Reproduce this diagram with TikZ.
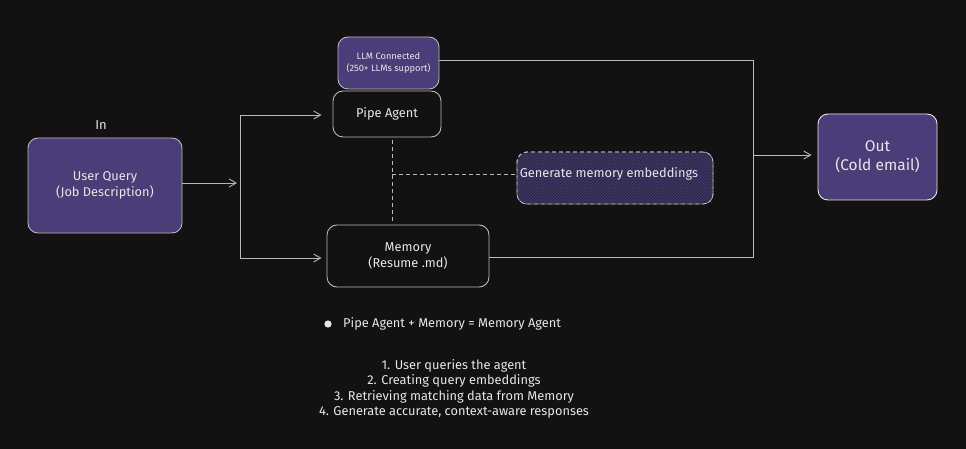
\documentclass[tikz,border=0pt]{standalone}
\usepackage{fontspec}
\setmainfont{Fira Sans}
\usetikzlibrary{arrows.meta,patterns}
\definecolor{bg}{HTML}{121212}
\definecolor{purp}{HTML}{4A3D78}
\definecolor{darkpurp}{HTML}{2B2648}
\definecolor{hatch}{HTML}{3F3A66}
\definecolor{ln}{HTML}{B8B8B8}
\definecolor{txt}{HTML}{E6E6E6}
\tikzset{
  box/.style={draw=ln, line width=0.9pt, rounded corners=10pt, text=txt, align=center, inner sep=0pt},
  pbox/.style={box, fill=purp},
  kbox/.style={box, fill=bg},
  conn/.style={draw=ln, line width=0.9pt},
  arr/.style={conn, -{Straight Barb[length=7pt,width=8pt]}},
  dconn/.style={draw=ln, line width=0.8pt, dash pattern=on 4pt off 3pt},
  lbl/.style={text=txt, inner sep=0pt},
  mainfs/.style={font=\fontsize{12.8}{15.5}\selectfont}
}
\begin{document}
\begin{tikzpicture}[x=1pt,y=-1pt]
\fill[bg] (0,0) rectangle (966,449);
\useasboundingbox (0,0) rectangle (966,449);

% nodes
\node[lbl, font=\fontsize{13}{15}\selectfont] (in) at (101,125) {In};
\node[pbox, minimum width=154pt, minimum height=95pt, mainfs] (uq) at (105,185.5) {User Query\\(Job Description)};
\node[pbox, minimum width=101pt, minimum height=52pt, font=\fontsize{9.3}{11.5}\selectfont] (llm) at (388.5,63) {LLM Connected\\(250+ LLMs support)};
\node[kbox, minimum width=108pt, minimum height=46pt, mainfs] (pipe) at (387,114) {Pipe Agent};
\node[box, dash pattern=on 4pt off 3pt, fill=darkpurp, minimum width=196pt, minimum height=52pt] (gen) at (615,178) {};
\fill[pattern=crosshatch, pattern color=hatch, rounded corners=10pt] (518,153) rectangle (712,203);
\draw[ln, line width=0.8pt, dash pattern=on 4pt off 3pt, rounded corners=10pt] (517,152) rectangle (713,204);
\node[lbl, mainfs] (gent) at (609,174) {Generate memory embeddings};
\node[kbox, minimum width=162pt, minimum height=62pt, mainfs] (mem) at (408,256) {Memory\\(Resume .md)};
\node[pbox, draw=txt, minimum width=119pt, minimum height=86pt, font=\fontsize{15.5}{19}\selectfont] (out) at (877.5,157) {Out\\(Cold email)};

% coordinates
\coordinate (j) at (240,183);
\coordinate (st) at (240,115);
\coordinate (sb) at (240,258);
\coordinate (dt) at (392,140);
\coordinate (db) at (392,222);
\coordinate (dm) at (392,174);
\coordinate (rt) at (753,60);
\coordinate (rb) at (753,257);
\coordinate (ro) at (753,155);

% connectors
\draw[arr, shorten >=3pt] (uq.east |- j) -- (j);
\draw[conn] (st) -- (sb);
\draw[arr, shorten >=11pt] (st) -- (pipe.west |- st);
\draw[arr, shorten >=5pt] (sb) -- (mem.west |- sb);
\draw[dconn] (dt) -- (db);
\draw[dconn] (dm) -- (gen.west |- dm);
\draw[conn] (llm.east |- rt) -- (rt) -- (rb) -- (mem.east |- rb);
\draw[arr, shorten >=6pt] (ro) -- (out.west |- ro);

% notes
\fill[txt] (328,324) circle (3.6pt);
\node[lbl, anchor=west, mainfs] (eq) at (343,324) {Pipe Agent + Memory = Memory Agent};
\node[lbl, align=center, font=\fontsize{12.8}{15.3}\selectfont] (steps) at (454,389) {1. User queries the agent\\2. Creating query embeddings\\3. Retrieving matching data from Memory\\4. Generate accurate, context-aware responses};
\end{tikzpicture}
\end{document}
